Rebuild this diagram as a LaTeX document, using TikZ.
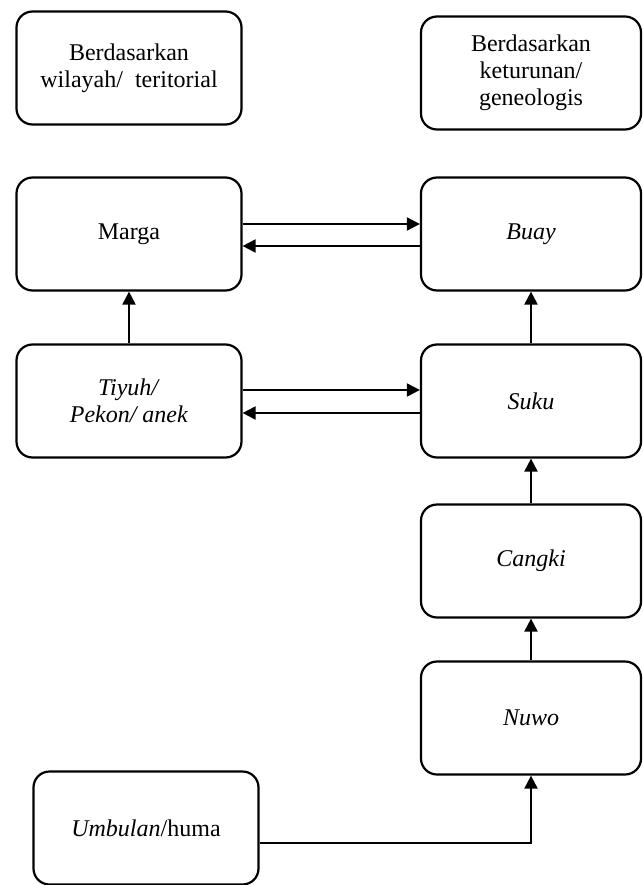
\documentclass[tikz,border=0pt]{standalone}
\usepackage{fontspec}
\setmainfont{Liberation Serif}
\usetikzlibrary{arrows.meta}

\begin{document}
\begin{tikzpicture}[x=1pt,y=-1pt]
\tikzset{box/.style = {shape=rectangle,draw,rounded corners=16pt,line width=2.2pt,minimum width=225pt,minimum height=113pt,align=center,font=\fontsize{24}{27}\selectfont}}
\tikzset{rbox/.style = {box,minimum width=220pt}}
\tikzset{edge/.style = {-{Triangle[length=13pt,width=13pt]},line width=2pt}}
\useasboundingbox (0,0) rectangle (642,885);

\node[box] (wilayah) at (129,68) {Berdasarkan\\wilayah/~ teritorial};
\node[rbox] (keturunan) at (531,73) {Berdasarkan\\keturunan/\\geneologis};
\node[box] (marga) at (129,234) {Marga};
\node[rbox] (buay) at (531,234) {\textit{Buay}};
\node[box] (tiyuh) at (129,401) {\textit{Tiyuh/}\\\textit{Pekon/ anek}};
\node[rbox] (suku) at (531,401) {\textit{Suku}};
\node[rbox] (cangki) at (531,561) {\textit{Cangki}};
\node[rbox] (nuwo) at (531,718) {\textit{Nuwo}};
\node[box] (umbulan) at (146,828) {\textit{Umbulan}/huma};

\draw[edge] ([yshift=10pt]marga.east) to ([yshift=10pt]buay.west);
\draw[edge] ([yshift=-12pt]buay.west) to ([yshift=-12pt]marga.east);
\draw[edge] ([yshift=11pt]tiyuh.east) to ([yshift=11pt]suku.west);
\draw[edge] ([yshift=-12pt]suku.west) to ([yshift=-12pt]tiyuh.east);
\draw[edge] (tiyuh) to (marga);
\draw[edge] (suku) to (buay);
\draw[edge] (cangki) to (suku);
\draw[edge] (nuwo) to (cangki);
\draw[edge] ([yshift=-15pt]umbulan.east) -| (nuwo.south);
\end{tikzpicture}
\end{document}
